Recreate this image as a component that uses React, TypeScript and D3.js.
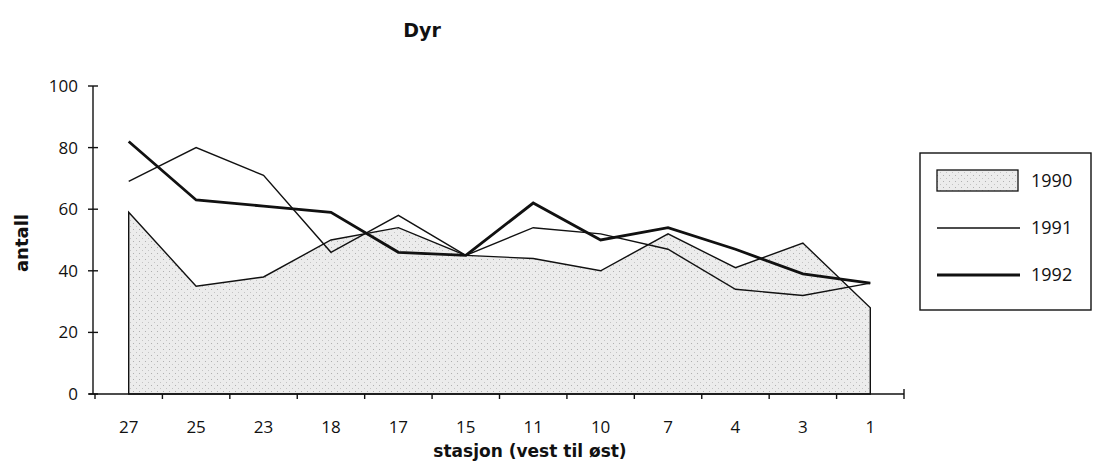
import React from "react";
import * as d3 from "d3";

const categories = ["27", "25", "23", "18", "17", "15", "11", "10", "7", "4", "3", "1"];
const s1990 = [59, 35, 38, 50, 54, 45, 44, 40, 52, 41, 49, 28];
const s1991 = [69, 80, 71, 46, 58, 45, 54, 52, 47, 34, 32, 36];
const s1992 = [82, 63, 61, 59, 46, 45, 62, 50, 54, 47, 39, 36];
const yTicks = [0, 20, 40, 60, 80, 100];
const seriesNames = ["1990", "1991", "1992"];

const W = 1094;
const H = 474;
const FONT = "'Open Sans', 'DejaVu Sans', sans-serif";
const BOLD = "'DejaVu Sans', 'Open Sans', sans-serif";

export default function App() {
  const x = d3.scaleBand<string>().domain(categories).range([95, 904]);
  const y = d3.scaleLinear().domain([0, 100]).range([394, 86]);
  const cx = (i: number) => (x(categories[i]) as number) + x.bandwidth() / 2;

  const area = d3
    .area<number>()
    .x((_, i) => cx(i))
    .y0(y(0))
    .y1((d) => y(d));
  const line = d3
    .line<number>()
    .x((_, i) => cx(i))
    .y((d) => y(d));

  const axisX = 93;
  const bounds = [95, ...categories.map((c) => (x(c) as number) + x.bandwidth())];

  return (
    <svg width={W} height={H} style={{ position: "absolute", left: 0, top: 0, background: "#fff" }}>
      <defs>
        <pattern id="stipple" width="6" height="6" patternUnits="userSpaceOnUse">
          <rect width="6" height="6" fill="#ececec" />
          <rect x="1" y="1" width="1" height="1" fill="#b0b0b0" />
          <rect x="4" y="4" width="1" height="1" fill="#c4c4c4" />
        </pattern>
      </defs>
      <rect x={0} y={0} width={W} height={H} fill="#fff" />
      <text x={422} y={37} textAnchor="middle" fontFamily={BOLD} fontWeight="bold" fontSize={19} fill="#111">
        Dyr
      </text>

      {/* area 1990 */}
      <path d={area(s1990) || ""} fill="url(#stipple)" stroke="#111" strokeWidth={1.4} strokeLinejoin="miter" />
      {/* 1991 */}
      <path d={line(s1991) || ""} fill="none" stroke="#111" strokeWidth={1.4} />
      {/* 1992 */}
      <path d={line(s1992) || ""} fill="none" stroke="#111" strokeWidth={2.8} />

      {/* y axis */}
      <line x1={axisX} x2={axisX} y1={y(100)} y2={y(0)} stroke="#111" strokeWidth={1.4} />
      {yTicks.map((t) => (
        <g key={t}>
          <line x1={axisX - 5} x2={axisX + 5} y1={y(t)} y2={y(t)} stroke="#111" strokeWidth={1.4} />
          <text
            x={78}
            y={y(t)}
            dy="0.35em"
            textAnchor="end"
            fontFamily={FONT}
            fontSize={17}
            fill="#111"
          >
            {t}
          </text>
        </g>
      ))}

      {/* x axis */}
      <line x1={axisX - 4} x2={904} y1={y(0)} y2={y(0)} stroke="#111" strokeWidth={1.6} />
      {bounds.map((b, i) => (
        <line
          key={i}
          x1={b}
          x2={b}
          y1={i === bounds.length - 1 ? y(0) - 5 : y(0)}
          y2={y(0) + 5}
          stroke="#111"
          strokeWidth={1.4}
        />
      ))}
      {categories.map((c, i) => (
        <text key={c} x={cx(i)} y={433} textAnchor="middle" fontFamily={FONT} fontSize={17} fill="#111">
          {c}
        </text>
      ))}

      <text x={530} y={457} textAnchor="middle" fontFamily={BOLD} fontWeight="bold" fontSize={17} fill="#111">
        stasjon (vest til øst)
      </text>
      <text
        transform="translate(28,243) rotate(-90)"
        textAnchor="middle"
        fontFamily={BOLD}
        fontWeight="bold"
        fontSize={18}
        fill="#111"
      >
        antall
      </text>

      {/* legend */}
      <rect x={920} y={153} width={171} height={157} fill="#fff" stroke="#111" strokeWidth={1.4} />
      <rect x={937} y={170} width={81} height={21} fill="url(#stipple)" stroke="#111" strokeWidth={1.3} />
      <line x1={937} x2={1020} y1={228} y2={228} stroke="#111" strokeWidth={1.4} />
      <line x1={937} x2={1020} y1={275} y2={275} stroke="#111" strokeWidth={2.8} />
      {seriesNames.map((n, i) => (
        <text
          key={n}
          x={1031}
          y={[181, 228, 275][i]}
          dy="0.35em"
          fontFamily={FONT}
          fontSize={18}
          fill="#111"
        >
          {n}
        </text>
      ))}
    </svg>
  );
}
